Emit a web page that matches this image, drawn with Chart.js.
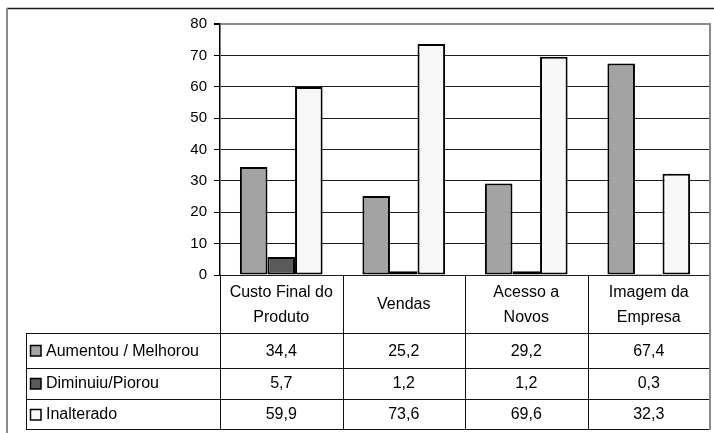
<!DOCTYPE html>
<html>
<head>
<meta charset="utf-8">
<script src="https://cdn.jsdelivr.net/npm/chart.js@4/dist/chart.umd.min.js"></script>
<style>
  html, body { margin: 0; padding: 0; background: #fff; }
  #wrap { width: 714px; height: 433px; position: relative; }
</style>
</head>
<body>
<div id="wrap"><canvas id="c" width="714" height="433"></canvas></div>
<script>
// Categories (multi-line labels for the table header row)
const categories = [
  ["Custo Final do", "Produto"],
  ["Vendas"],
  ["Acesso a", "Novos"],
  ["Imagem da", "Empresa"]
];

// Series
const seriesNames = ["Aumentou / Melhorou", "Diminuiu/Piorou", "Inalterado"];
const aumentou = [34.4, 25.2, 29.2, 67.4];
const diminuiu = [5.7, 1.2, 1.2, 0.3];
const inalterado = [59.9, 73.6, 69.6, 32.3];

// Y axis ticks
const yTicks = [0, 10, 20, 30, 40, 50, 60, 70, 80];

const seriesColors = ["#a3a3a3", "#5a5a5a", "#f8f8f8"];
const FONT = "'Liberation Sans', Arial, Helvetica, sans-serif";

const fmt = v => v.toFixed(1).replace('.', ',');

// Draws the data table under the plot plus the frame lines
const dataTablePlugin = {
  id: 'dataTable',
  afterDraw(chart) {
    const ctx = chart.ctx;
    const area = chart.chartArea;
    const x = chart.scales.x;
    const n = categories.length;
    const colW = (area.right - area.left) / n;
    const tableLeft = 26;
    const headTop = area.bottom;
    const headBottom = area.bottom + 58;
    const rowLines = [headBottom, area.bottom + 92.5, area.bottom + 123.5, area.bottom + 154];

    ctx.save();
    ctx.lineWidth = 1;
    ctx.strokeStyle = '#111';

    // horizontal table lines
    rowLines.forEach(y => {
      ctx.beginPath();
      ctx.moveTo(tableLeft, Math.round(y) + 0.5);
      ctx.lineTo(area.right, Math.round(y) + 0.5);
      ctx.stroke();
    });
    // left edge of table
    ctx.beginPath();
    ctx.moveTo(tableLeft + 0.5, Math.round(headBottom) + 0.5);
    ctx.lineTo(tableLeft + 0.5, Math.round(rowLines[3]) + 0.5);
    ctx.stroke();
    // column separators
    for (let i = 0; i < n; i++) {
      const cx = Math.round(area.left + i * colW) + 0.5;
      ctx.beginPath();
      ctx.moveTo(cx, headTop);
      ctx.lineTo(cx, Math.round(rowLines[3]) + 0.5);
      ctx.stroke();
    }
    // right edge of plot and table (grey)
    ctx.strokeStyle = '#8c8c8c';
    ctx.lineWidth = 2;
    ctx.beginPath();
    ctx.moveTo(area.right, area.top - 1);
    ctx.lineTo(area.right, Math.round(rowLines[3]) + 1);
    ctx.stroke();

    // header labels
    ctx.fillStyle = '#000';
    ctx.font = '16px ' + FONT;
    ctx.textAlign = 'center';
    ctx.textBaseline = 'middle';
    const headMid = (headTop + headBottom) / 2;
    categories.forEach((lines, i) => {
      const cx = x.getPixelForValue(i);
      const lh = 25;
      const start = headMid - (lines.length - 1) * lh / 2;
      lines.forEach((t, k) => ctx.fillText(t, cx, start + k * lh + 1));
    });

    // series rows
    const datasets = chart.data.datasets;
    datasets.forEach((ds, r) => {
      const yTop = rowLines[r];
      const yBot = rowLines[r + 1];
      const ym = (yTop + yBot) / 2;
      // legend key
      ctx.fillStyle = ds.backgroundColor;
      ctx.fillRect(30, Math.round(ym) - 5, 11, 11);
      ctx.strokeStyle = '#000';
      ctx.lineWidth = 1.5;
      ctx.strokeRect(30.5, Math.round(ym) - 4.5, 10.5, 10.5);
      ctx.fillStyle = '#000';
      ctx.textAlign = 'left';
      ctx.fillText(ds.label, 46, ym + 1);
      ctx.textAlign = 'center';
      ds.data.forEach((v, i) => {
        ctx.fillText(fmt(v), x.getPixelForValue(i), ym + 1);
      });
    });

    // outer frame
    ctx.strokeStyle = '#1a1a1a';
    ctx.lineWidth = 1.5;
    ctx.beginPath();
    ctx.moveTo(7, 8.5);
    ctx.lineTo(714, 8.5);
    ctx.stroke();
    ctx.strokeStyle = '#8a8a8a';
    ctx.lineWidth = 2;
    ctx.beginPath();
    ctx.moveTo(7, 8);
    ctx.lineTo(7, 433);
    ctx.stroke();
    ctx.restore();
  }
};

new Chart(document.getElementById('c'), {
  type: 'bar',
  data: {
    labels: categories.map(l => l.join(' ')),
    datasets: [
      { label: seriesNames[0], data: aumentou, backgroundColor: seriesColors[0] },
      { label: seriesNames[1], data: diminuiu, backgroundColor: seriesColors[1] },
      { label: seriesNames[2], data: inalterado, backgroundColor: seriesColors[2] }
    ].map(d => Object.assign(d, {
      borderColor: '#000',
      borderWidth: 2,
      borderSkipped: false,
      categoryPercentage: 0.675,
      barPercentage: 1.0
    }))
  },
  options: {
    responsive: false,
    devicePixelRatio: 1,
    animation: false,
    events: [],
    layout: { padding: { left: 0, top: 24, right: 4, bottom: 158 } },
    plugins: {
      legend: { display: false },
      title: { display: false },
      tooltip: { enabled: false }
    },
    scales: {
      x: { display: false },
      y: {
        min: 0,
        max: 80,
        afterFit(scale) { scale.width = 220; },
        afterBuildTicks(scale) { scale.ticks = yTicks.map(v => ({ value: v })); },
        ticks: {
          color: '#000',
          font: { family: FONT, size: 15 },
          padding: 7
        },
        grid: {
          color: c => (c.tick && c.tick.value === 80) ? '#8c8c8c' : '#1e1e1e',
          lineWidth: c => (c.tick && c.tick.value === 80) ? 2 : 1,
          tickColor: '#000',
          tickLength: 6
        },
        border: { color: '#000', width: 1.5 }
      }
    }
  },
  plugins: [dataTablePlugin]
});
</script>
</body>
</html>
